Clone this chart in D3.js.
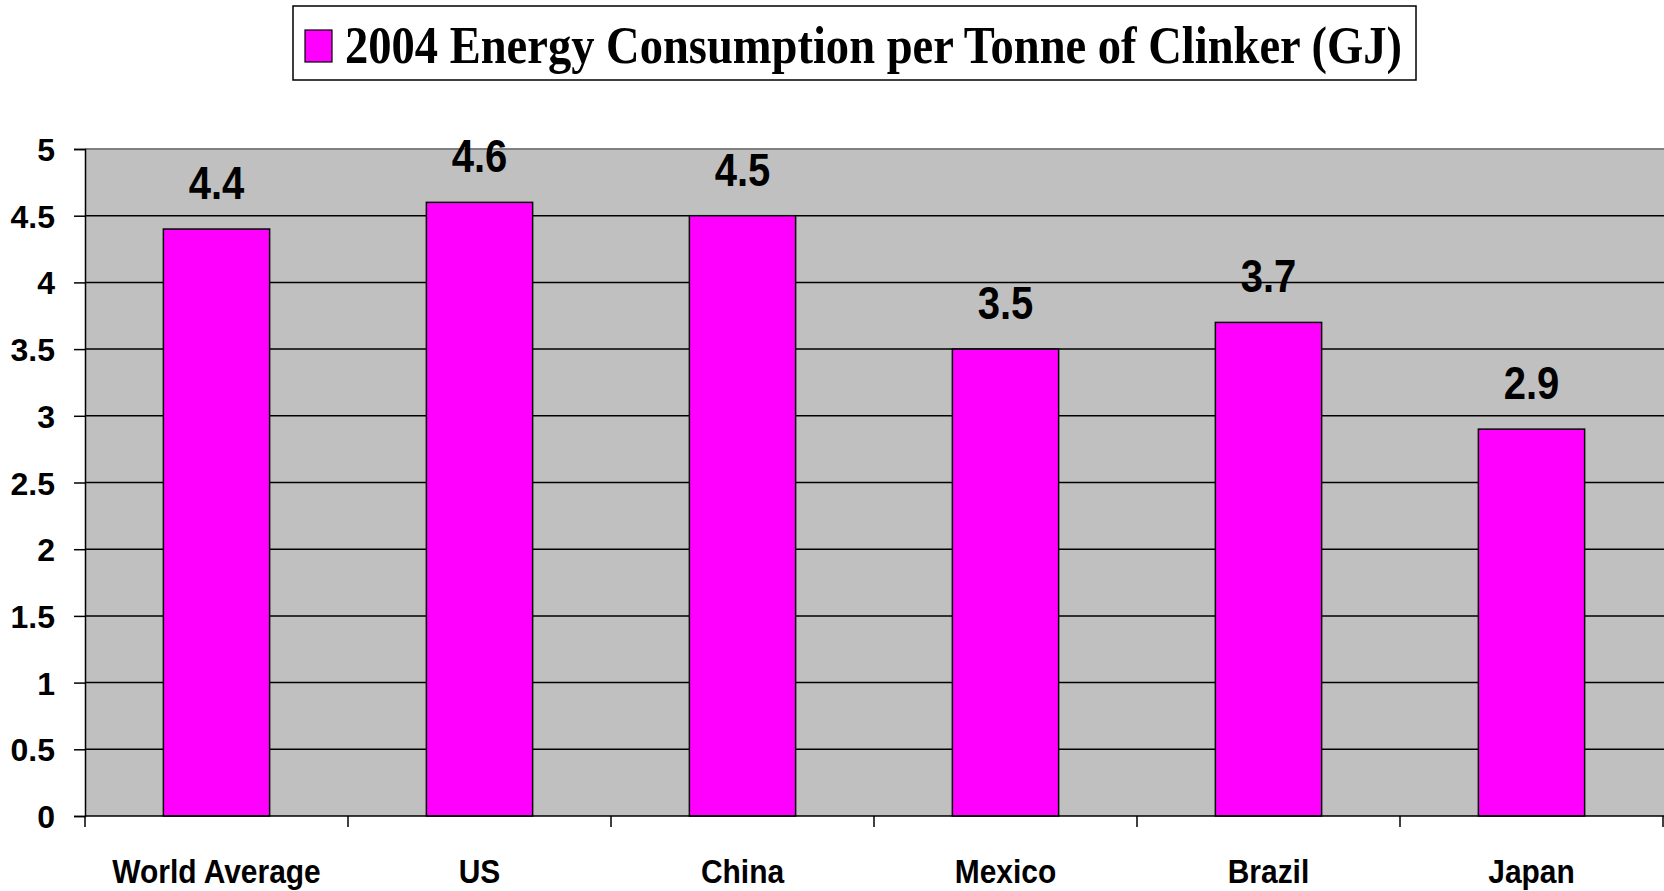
<!DOCTYPE html>
<html>
<head>
<meta charset="utf-8">
<script src="https://cdn.jsdelivr.net/npm/d3@7"></script>
<style>
  html, body { margin: 0; padding: 0; background: #ffffff; }
  svg { display: block; }
</style>
</head>
<body>
<svg id="chart" width="1664" height="891"></svg>
<script>
const categories = ["World Average", "US", "China", "Mexico", "Brazil", "Japan"];
const values = [4.4, 4.6, 4.5, 3.5, 3.7, 2.9];
const valueLabels = ["4.4", "4.6", "4.5", "3.5", "3.7", "2.9"];
const yTicks = [0, 0.5, 1, 1.5, 2, 2.5, 3, 3.5, 4, 4.5, 5];
const yTickLabels = ["0", "0.5", "1", "1.5", "2", "2.5", "3", "3.5", "4", "4.5", "5"];
const seriesName = "2004 Energy Consumption per Tonne of Clinker (GJ)";

const svg = d3.select("#chart");
const W = 1664, H = 891;
const plot = { left: 85, right: 1663, top: 149, bottom: 816 };

const x = d3.scaleBand().domain(categories).range([plot.left, plot.right]).paddingInner(0).paddingOuter(0);
const y = d3.scaleLinear().domain([0, 5]).range([plot.bottom, plot.top]);
const bw = x.bandwidth();
const barFrac = 0.404;

// plot background
svg.append("rect")
  .attr("x", plot.left).attr("y", plot.top)
  .attr("width", W - plot.left).attr("height", plot.bottom - plot.top)
  .attr("fill", "#C0C0C0");

// gridlines
svg.append("g").selectAll("line")
  .data(yTicks.filter(t => t > 0))
  .join("line")
  .attr("x1", plot.left).attr("x2", W)
  .attr("y1", d => y(d)).attr("y2", d => y(d))
  .attr("stroke", d => d === 5 ? "#808080" : "#000000")
  .attr("stroke-width", d => d === 5 ? 2 : 1.5);

// bars
svg.append("g").selectAll("rect")
  .data(categories)
  .join("rect")
  .attr("x", (d) => x(d) + bw * (1 - barFrac) / 2)
  .attr("width", bw * barFrac)
  .attr("y", (d, i) => y(values[i]))
  .attr("height", (d, i) => y(0) - y(values[i]))
  .attr("fill", "#FF00FF")
  .attr("stroke", "#000000")
  .attr("stroke-width", 1.5);

// value labels
svg.append("g").selectAll("text")
  .data(categories)
  .join("text")
  .attr("transform", (d, i) => `translate(${x(d) + bw / 2},${y(values[i]) - 30}) scale(0.87,1)`)
  .attr("text-anchor", "middle")
  .attr("font-family", "'Liberation Sans', Arial, sans-serif")
  .attr("font-weight", "bold")
  .attr("font-size", 46)
  .attr("fill", "#000")
  .text((d, i) => valueLabels[i]);

// y axis
const yAxis = d3.axisLeft(y)
  .tickValues(yTicks)
  .tickFormat((d, i) => yTickLabels[i])
  .tickSize(11)
  .tickPadding(19);
const yg = svg.append("g").attr("transform", `translate(${plot.left},0)`).call(yAxis);
yg.attr("font-size", 32).attr("font-family", "'Liberation Sans', Arial, sans-serif");
yg.select(".domain").attr("stroke", "#000").attr("stroke-width", 1.5);
yg.selectAll(".tick line").attr("stroke", "#000").attr("stroke-width", 1.5);
yg.selectAll(".tick text")
  .style("font-family", "'Liberation Sans', Arial, sans-serif")
  .style("font-weight", "bold")
  .style("font-size", "32px")
  .attr("fill", "#000")
  .attr("dy", "0.36em");

// x axis line
svg.append("line")
  .attr("x1", plot.left).attr("x2", W)
  .attr("y1", y(0)).attr("y2", y(0))
  .attr("stroke", "#000").attr("stroke-width", 1.5);

// x tick marks at band boundaries
const boundaries = categories.map(c => x(c)).concat([x.range()[1]]);
svg.append("g").selectAll("line")
  .data(boundaries)
  .join("line")
  .attr("x1", d => d).attr("x2", d => d)
  .attr("y1", y(0)).attr("y2", y(0) + 11)
  .attr("stroke", "#000").attr("stroke-width", 1.5);

// x labels
svg.append("g").selectAll("text")
  .data(categories)
  .join("text")
  .attr("transform", d => `translate(${x(d) + bw / 2},883) scale(0.88,1)`)
  .attr("text-anchor", "middle")
  .attr("font-family", "'Liberation Sans', Arial, sans-serif")
  .attr("font-weight", "bold")
  .attr("font-size", 34)
  .attr("fill", "#000")
  .text(d => d);

// legend
const lg = svg.append("g");
lg.append("rect")
  .attr("x", 293).attr("y", 6).attr("width", 1123).attr("height", 74)
  .attr("fill", "#fff").attr("stroke", "#000").attr("stroke-width", 1.5);
lg.append("rect")
  .attr("x", 305).attr("y", 30).attr("width", 27).attr("height", 32)
  .attr("fill", "#FF00FF").attr("stroke", "#000").attr("stroke-width", 1.2);
lg.append("text")
  .attr("x", 345).attr("y", 63)
  .attr("font-family", "'Liberation Serif', 'Times New Roman', serif")
  .attr("font-weight", "bold")
  .attr("font-size", 53)
  .attr("textLength", 1057)
  .attr("lengthAdjust", "spacingAndGlyphs")
  .attr("fill", "#000")
  .text(seriesName);
</script>
</body>
</html>
